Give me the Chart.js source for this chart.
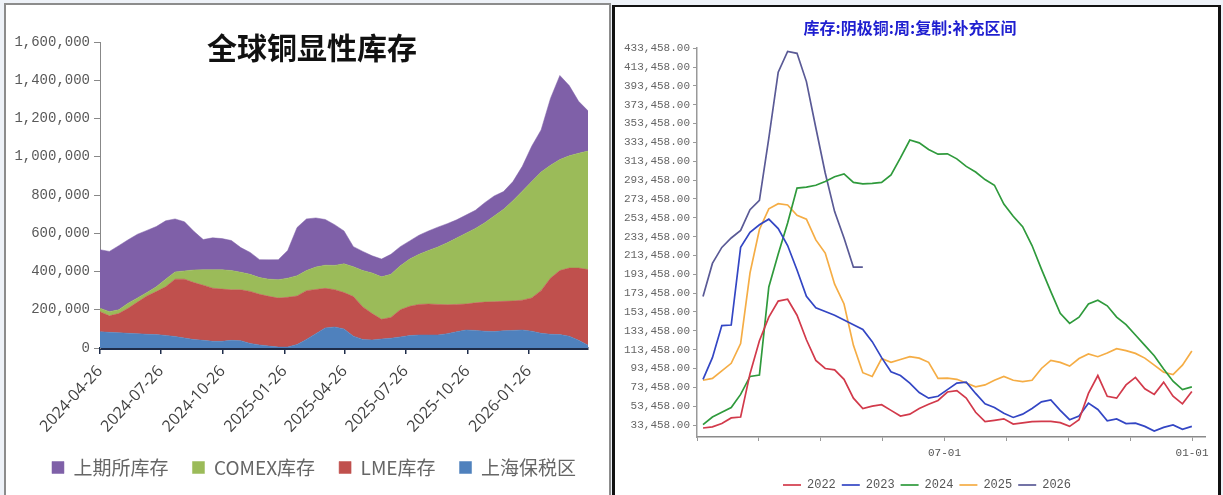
<!DOCTYPE html>
<html><head><meta charset="utf-8">
<script src="https://cdn.jsdelivr.net/npm/chart.js@4.4.1/dist/chart.umd.min.js"></script>
<style>
html,body{margin:0;padding:0;background:#eef2f8;width:1223px;height:495px;overflow:hidden;position:relative;}
#p1{position:absolute;left:4px;top:3px;width:607px;height:500px;border:2px solid #8c8c8c;background:#fff;box-sizing:border-box;}
#p2{position:absolute;left:612px;top:5px;width:609px;height:500px;border-style:solid;border-color:#111;border-width:2px 3px 0 3px;background:#fff;box-sizing:border-box;}
#c1{position:absolute;left:6px;top:5px;}
#c2{position:absolute;left:615px;top:7px;}
</style></head>
<body>
<div id="p1"></div><div id="p2"></div>
<canvas id="c1" width="602" height="490"></canvas>
<canvas id="c2" width="601" height="496"></canvas>
<script>
// ===== Left chart: 全球铜显性库存 (stacked area) =====
const invDates = ['2024-04-26','2024-05-10','2024-05-24','2024-06-07','2024-06-21','2024-07-05','2024-07-19','2024-08-02','2024-08-16','2024-08-30',
'2024-09-13','2024-09-27','2024-10-11','2024-10-25','2024-11-08','2024-11-22','2024-12-06','2024-12-20','2025-01-03','2025-01-17',
'2025-01-31','2025-02-14','2025-02-28','2025-03-14','2025-03-28','2025-04-11','2025-04-25','2025-05-09','2025-05-23','2025-06-06',
'2025-06-20','2025-07-04','2025-07-18','2025-08-01','2025-08-15','2025-08-29','2025-09-12','2025-09-26','2025-10-10','2025-10-24',
'2025-11-07','2025-11-21','2025-12-05','2025-12-19','2026-01-02','2026-01-16','2026-01-30','2026-02-13','2026-02-27','2026-03-13',
'2026-03-27','2026-04-10','2026-04-24'];
const shfeStock = [306000,315000,335000,332000,333000,325000,315000,305000,277000,257000,202000,158000,167000,163000,157000,129000,115000,94000,101000,105000,
145000,252000,270000,257000,239000,213000,172000,105000,100000,90000,93000,105000,100000,95000,100000,102000,104000,100000,95000,95000,
95000,105000,105000,93000,100000,130000,185000,220000,350000,440000,367000,272000,210000];
const comexStock = [18000,22000,20000,26000,22000,18000,25000,40000,38000,43000,66000,81000,96000,101000,101000,92000,89000,87000,90000,96000,
100000,106000,105000,117000,121000,127000,150000,156000,190000,212000,222000,225000,230000,247000,262000,280000,300000,324000,347000,370000,
389000,415000,448000,481000,524000,570000,608000,620000,590000,580000,587000,600000,620000];
const lmeStock = [105000,86000,100000,131000,165000,200000,225000,254000,300000,308000,298000,288000,278000,273000,264000,266000,272000,265000,260000,256000,
260000,254000,255000,231000,207000,195000,190000,207000,170000,138000,103000,109000,142000,153000,160000,162000,160000,151000,143000,136000,
144000,152000,156000,154000,154000,156000,174000,223000,293000,335000,356000,378000,395000];
const bondedStock = [85000,82000,80000,77000,75000,72000,70000,66000,60000,52000,44000,40000,35000,35000,40000,38000,24000,16000,10000,5000,
5000,18000,45000,75000,105000,110000,100000,62000,45000,42000,47000,51000,58000,65000,68000,68000,68000,75000,85000,94000,
92000,88000,86000,90000,92000,94000,88000,77000,72000,70000,62000,40000,15000];
const invTickDates = ['2024-04-26','2024-07-26','2024-10-26','2025-01-26','2025-04-26','2025-07-26','2025-10-26','2026-01-26'];
const invSeriesNames = ['上海保税区','LME库存','COMEX库存','上期所库存'];

// ===== Right chart: 库存:阴极铜:周 seasonal =====
const weekNo = [1,2,3,4,5,6,7,8,9,10,11,12,13,14,15,16,17,18,19,20,21,22,23,24,25,26,27,28,29,30,31,32,33,34,35,36,37,38,39,40,41,42,43,44,45,46,47,48,49,50,51,52,53];
const cu2022 = [30300,31500,35000,41000,42000,88000,123000,148000,165000,167000,150000,124000,102000,93500,92000,82000,62000,51000,53500,55000,
49000,43000,45000,51000,55500,59500,68500,70000,62000,47000,37000,38500,40000,34500,35800,37000,37400,37400,36000,32000,
39000,67000,86000,64000,62000,76000,84000,72000,66000,79000,64000,56000,69000];
const cu2023 = [82000,105000,139000,139600,222000,238000,246000,252000,242000,224000,198000,170000,158000,154000,150000,145000,140000,135000,122000,105000,
90000,86000,78000,68000,62000,64000,71000,78000,79000,67000,56000,52000,46000,41500,45000,51000,58000,60000,49000,39100,
43000,56700,50000,38000,40000,35000,35500,32000,27000,31000,33500,29000,32000];
const cu2024 = [33800,42000,47000,52000,66000,85000,86500,180000,215000,248000,285000,286000,288000,292000,297000,300000,291000,289500,290000,291000,
299000,317000,336000,333000,326000,321000,321300,316000,308000,302000,294000,288000,268000,255000,244000,224000,199000,175000,152000,141400,
148000,162000,166000,160000,148000,140000,129000,118000,107000,93000,80000,71000,74000];
const cu2025 = [81000,83000,91000,99000,120000,195000,241000,263000,268400,267000,256000,252000,230000,216000,183000,162000,118000,89000,85000,104000,
100000,103000,106000,104500,100000,83000,83200,82000,78000,74000,76000,81000,85000,81000,79600,81000,93500,102000,100000,96000,
104000,109000,106000,110000,114500,112500,109500,104500,97000,89500,87000,97000,112000];
const cu2026 = [170000,205000,222000,232000,240000,262000,272000,338000,408000,430000,428000,398000,349000,301000,260000,232000,201000,201000];
const seasonYears = ['2022','2023','2024','2025','2026'];
const seasonYTicks = [33458,53458,73458,93458,113458,133458,153458,173458,193458,213458,233458,253458,273458,293458,313458,333458,353458,373458,393458,413458,433458];
const seasonXLabels = ['07-01','01-01'];

// ---------- helpers ----------
const DAY = 86400000;
const dayOf = s => Math.round((Date.parse(s) - Date.parse(invDates[0])) / DAY);
const fmtInt = v => Math.round(v).toLocaleString('en-US');
const fmt2 = v => Number(v).toLocaleString('en-US',{minimumFractionDigits:2,maximumFractionDigits:2});
// shifts the title / legend boxes after layout (keeps the plot area fixed)
const boxShift = (id, titleDx, legendDx, legendDy) => ({id, afterLayout(chart){
  if (chart.titleBlock) { chart.titleBlock.left += titleDx; chart.titleBlock.right += titleDx; }
  if (chart.legend) { chart.legend.left += legendDx; chart.legend.right += legendDx;
    chart.legend.top += legendDy; chart.legend.bottom += legendDy; }
}});

// ---------- left chart ----------
const toXY = arr => arr.map((v,i)=>({x:dayOf(invDates[i]), y:v}));
const invColors = ['#4f81bd','#c0504d','#9bbb59','#7f60a8'];
const invData = [bondedStock, lmeStock, comexStock, shfeStock];
new Chart(document.getElementById('c1'), {
  type:'line',
  plugins:[boxShift('shiftL', 15, 17, -7)],
  data:{datasets: invData.map((arr,i)=>({
    label: invSeriesNames[i], data: toXY(arr),
    backgroundColor: invColors[i], borderColor: invColors[i], borderWidth:0.5,
    fill: i===0 ? 'origin' : '-1', pointRadius:0, tension:0
  }))},
  options:{
    responsive:false, animation:false,
    layout:{padding:{left:0,right:20,top:0,bottom:1}},
    plugins:{
      title:{display:true, text:'全球铜显性库存', color:'#111',
        font:{family:'"Noto Sans CJK SC"', size:30, weight:'bold'}, padding:{top:25,bottom:-24}},
      legend:{position:'bottom', reverse:true,
        labels:{boxWidth:12, boxHeight:12, padding:24, color:'#666',
          font:{family:'"Noto Sans CJK SC"', size:19}}},
      tooltip:{enabled:false}
    },
    scales:{
      x:{type:'linear', min:0, max:dayOf(invDates[invDates.length-1]),
        afterBuildTicks: s => { s.ticks = invTickDates.map(d=>({value:dayOf(d)})); },
        afterFit: s => { s.height = 93; },
        ticks:{autoSkip:false, minRotation:47, maxRotation:47, color:'#404040', padding:8,
          font:{family:'"Open Sans"', size:16},
          callback: v => { const i = invTickDates.findIndex(d=>dayOf(d)===v); return i>=0 ? invTickDates[i] : ''; }},
        grid:{display:true, drawOnChartArea:false, drawTicks:true, tickLength:6, color:'#1f2d4a', lineWidth:1.5},
        border:{display:true, color:'#1f2d4a', width:3}
      },
      y:{stacked:true, min:0, max:1600000,
        afterFit: s => { s.width = 94; },
        ticks:{stepSize:200000, color:'#595959', padding:4,
          font:{family:'"Liberation Mono"', size:14}, callback: v => fmtInt(v)},
        grid:{display:true, drawOnChartArea:false, drawTicks:true, tickLength:6, color:'#888'},
        border:{display:true, color:'#888', width:1}
      }
    }
  }
});

// ---------- right chart ----------
const seasonColors = ['#d23a4b','#3346c4','#2f9a3c','#f5ad45','#5a5a96'];
const seasonData = [cu2022, cu2023, cu2024, cu2025, cu2026];
const xMin = 0.36, xYearEnd = 53.02, xMax = 54.4;
new Chart(document.getElementById('c2'), {
  type:'line',
  plugins:[boxShift('shiftR', 0, 17, 0)],
  data:{datasets: seasonData.map((arr,i)=>({
    label: seasonYears[i], data: arr.map((v,j)=>({x:weekNo[j], y:v})),
    borderColor: seasonColors[i], backgroundColor: seasonColors[i], borderWidth:1.7,
    pointRadius:0, tension:0, fill:false, pointStyle:'line'
  }))},
  options:{
    responsive:false, animation:false,
    layout:{padding:{left:0,right:11,top:0,bottom:2}},
    plugins:{
      title:{display:true, text:'库存:阴极铜:周:复制:补充区间', color:'#1f1fd0',
        font:{family:'"Noto Sans CJK SC"', size:16, weight:'bold'}, padding:{top:11,bottom:11}},
      legend:{position:'bottom',
        labels:{usePointStyle:true, pointStyleWidth:18, boxHeight:10, padding:6, color:'#555',
          font:{family:'"Liberation Mono"', size:12}}},
      tooltip:{enabled:false}
    },
    scales:{
      x:{type:'linear', min:xMin, max:xMax,
        afterBuildTicks: s => { const t=[]; for(let k=0;k<=8;k++) t.push({value:xMin+(xYearEnd-xMin)*k/8}); s.ticks=t; },
        afterFit: s => { s.height = 36; },
        ticks:{autoSkip:false, maxRotation:0, color:'#555', padding:5,
          font:{family:'"Liberation Mono"', size:11},
          callback:(v,idx)=> idx===4 ? seasonXLabels[0] : (idx===8 ? seasonXLabels[1] : '')},
        grid:{display:true, drawOnChartArea:false, drawTicks:true, tickLength:4, color:'#999'},
        border:{display:true, color:'#8a8a8a', width:1.5}
      },
      y:{min:20758, max:433458,
        afterBuildTicks: s => { s.ticks = seasonYTicks.map(v=>({value:v})); },
        afterFit: s => { s.width = 82; },
        ticks:{autoSkip:false, color:'#666', padding:3,
          font:{family:'"Liberation Mono"', size:11}, callback: v => fmt2(v)},
        grid:{display:true, drawOnChartArea:false, drawTicks:true, tickLength:4, color:'#999'},
        border:{display:true, color:'#999', width:1.5}
      }
    }
  }
});
</script>
</body></html>
